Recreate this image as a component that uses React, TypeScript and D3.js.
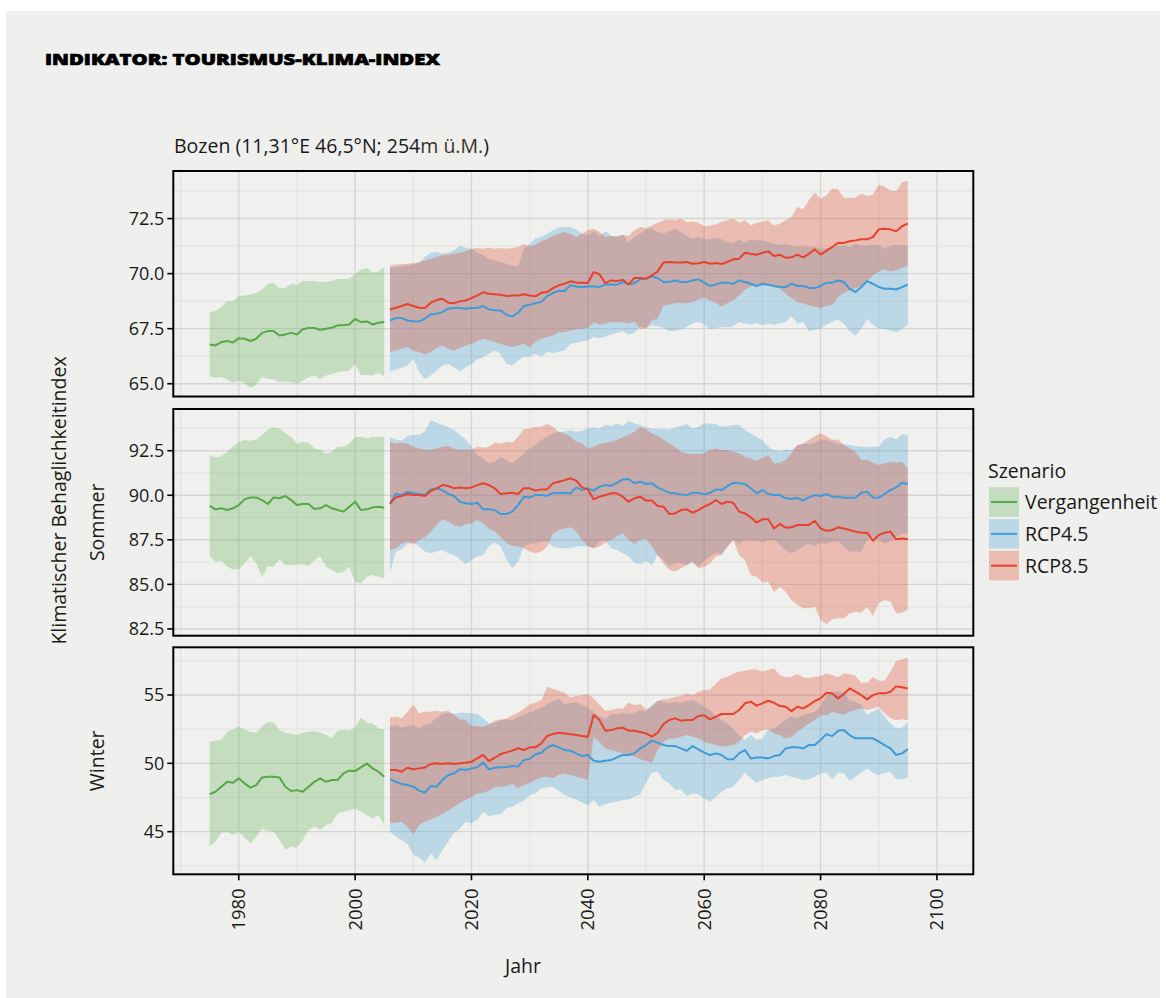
import React, { useEffect } from 'react';
import * as d3 from 'd3';

// ---------- years ----------
const pastYears = d3.range(1975, 2006); // 31 years
const futureYears = d3.range(2006, 2096); // 90 years

// ---------- Panel 1 (annual) ----------
const jahrPastMean = [66.78, 66.74, 66.89, 66.94, 66.87, 67.07, 67.04, 66.94, 67.04, 67.31, 67.39, 67.39, 67.19, 67.24, 67.31, 67.24, 67.47, 67.53, 67.53, 67.45, 67.50, 67.54, 67.65, 67.66, 67.69, 67.95, 67.80, 67.83, 67.69, 67.77, 67.80];
const jahrPastHi = [68.25, 68.30, 68.48, 68.74, 68.75, 68.98, 69.01, 69.04, 69.12, 69.27, 69.54, 69.57, 69.34, 69.34, 69.54, 69.50, 69.66, 69.65, 69.66, 69.62, 69.62, 69.66, 69.77, 69.74, 69.77, 69.99, 70.18, 70.25, 70.04, 70.10, 70.30];
const jahrPastLo = [65.34, 65.27, 65.30, 65.18, 65.04, 65.15, 65.03, 64.81, 64.95, 65.30, 65.22, 65.22, 65.07, 65.10, 65.07, 65.00, 65.15, 65.30, 65.37, 65.22, 65.37, 65.45, 65.53, 65.57, 65.60, 65.90, 65.40, 65.40, 65.37, 65.50, 65.34];
const jahrRcp45Mean = [
  67.87, 67.98, 67.98, 67.87, 67.84, 67.83, 67.95, 68.15, 68.18, 68.25, 68.41, 68.44, 68.44, 68.41, 68.44,
  68.44, 68.53, 68.37, 68.34, 68.33, 68.13, 68.06, 68.22, 68.53, 68.59, 68.66, 68.71, 68.98, 69.12, 69.22,
  69.21, 69.47, 69.42, 69.39, 69.42, 69.42, 69.39, 69.51, 69.51, 69.50,
  69.62, 69.51, 69.57, 69.74, 69.77, 69.87, 69.80, 69.62, 69.62, 69.69,
  69.62, 69.62, 69.69, 69.74, 69.59, 69.44, 69.51, 69.59, 69.59, 69.53,
  69.69, 69.62, 69.54, 69.44, 69.54, 69.50, 69.44, 69.39, 69.39, 69.54,
  69.44, 69.44, 69.36, 69.34, 69.44, 69.59, 69.59, 69.69, 69.62, 69.31,
  69.16, 69.39, 69.66, 69.54, 69.39, 69.31, 69.31, 69.28, 69.39, 69.50];
const jahrRcp45Hi = [
  70.25, 70.30, 70.34, 70.37, 70.42, 70.48, 70.75, 70.95, 70.98, 70.90, 70.95, 71.06, 71.28, 71.16, 71.13,
  70.95, 70.83, 70.68, 70.60, 70.53, 70.45, 70.37, 70.30, 71.13, 71.36, 71.59, 71.66, 71.81, 71.97, 72.09,
  72.12, 72.12, 72.00, 71.81, 71.74, 71.92, 71.71, 71.94, 71.71, 71.71,
  71.77, 71.43, 71.66, 71.81, 72.01, 72.07, 71.89, 71.81, 71.92, 72.04,
  71.89, 71.71, 71.59, 71.66, 71.56, 71.56, 71.62, 71.56, 71.43, 71.40,
  71.56, 71.40, 71.56, 71.51, 71.51, 71.43, 71.36, 71.31, 71.36, 71.28,
  71.24, 71.28, 71.21, 71.21, 71.13, 71.16, 71.21, 71.28, 71.28, 71.21,
  71.36, 71.28, 71.28, 71.31, 71.28, 71.13, 71.25, 71.31, 71.28, 71.28];
const jahrRcp45Lo = [
  65.56, 65.65, 65.71, 65.83, 66.13, 65.53, 65.22, 65.37, 65.60, 65.83, 65.90, 65.75, 65.56, 65.75, 65.90,
  66.10, 66.21, 66.36, 66.51, 66.36, 65.90, 65.83, 66.06, 66.25, 66.21, 66.36, 66.21, 66.44, 66.40, 66.45,
  66.51, 66.81, 66.86, 66.92, 66.97, 67.12, 67.07,
  67.15, 67.24, 67.30, 67.39, 67.22, 67.30, 67.58, 67.53, 67.65, 67.61,
  67.53, 67.39, 67.39, 67.47, 67.58, 67.73, 67.80, 67.70, 67.47, 67.53,
  67.58, 67.55, 67.61, 67.80, 67.73, 67.68, 67.76, 67.65, 67.73, 67.68,
  67.73, 67.80, 68.06, 67.73, 67.80, 67.38, 67.45,
  67.50, 67.68, 67.80, 67.92, 67.72, 67.37, 67.19, 67.50, 67.95, 67.68, 67.50, 67.50, 67.42, 67.34, 67.50, 67.68];
const jahrRcp85Mean = [
  68.37, 68.45, 68.53, 68.62, 68.53, 68.45, 68.44, 68.68, 68.80, 68.86, 68.68, 68.66, 68.74, 68.78, 68.89,
  69.01, 69.15, 69.09, 69.06, 69.04, 68.98, 69.01, 69.01, 69.06, 69.01, 68.97, 69.13, 69.16, 69.34, 69.47,
  69.54, 69.65, 69.59, 69.59, 69.57, 70.07, 69.97, 69.57, 69.69, 69.66,
  69.72, 69.51, 69.80, 69.80, 69.77, 69.92, 70.10, 70.50, 70.53, 70.50,
  70.50, 70.53, 70.45, 70.47, 70.53, 70.45, 70.48, 70.44, 70.53, 70.65,
  70.68, 70.95, 70.90, 70.86, 70.95, 71.01, 70.80, 70.86, 70.72, 70.74,
  70.86, 70.74, 70.90, 71.10, 70.87, 71.03, 71.21, 71.40, 71.39, 71.47,
  71.51, 71.56, 71.56, 71.66, 72.01, 72.04, 72.01, 71.92, 72.15, 72.27];
const jahrRcp85Hi = [
  70.37, 70.40, 70.44, 70.45, 70.47, 70.53, 70.60, 70.68, 70.75, 70.83, 70.86, 70.90, 70.95, 71.01, 71.13,
  71.16, 71.13, 71.18, 71.13, 71.16, 71.13, 71.16, 71.21, 71.33, 71.24, 71.31, 71.47, 71.56, 71.71, 71.81,
  71.89, 71.81, 71.66, 71.81, 71.97, 72.04, 71.89, 71.66, 71.71, 71.66,
  71.77, 71.71, 71.97, 72.12, 72.07, 72.19, 72.31, 72.42, 72.47, 72.42,
  72.50, 72.34, 72.37, 72.31, 72.15, 72.19, 72.24, 72.34, 72.42, 72.50,
  72.31, 72.42, 72.19, 72.30, 72.37, 72.42, 72.19, 72.27, 72.42, 72.57,
  73.03, 72.92, 73.33, 73.68, 73.40, 73.56, 73.86, 73.83, 73.45, 73.45,
  73.44, 73.63, 73.53, 73.59, 74.04, 73.94, 73.78, 73.74, 74.16, 74.21];
const jahrRcp85Lo = [
  66.44, 66.51, 66.59, 66.66, 66.51, 66.44, 66.33, 66.44, 66.62, 66.74, 66.59, 66.51, 66.62, 66.74, 66.81,
  66.94, 67.04, 66.97, 66.89, 66.81, 66.74, 66.66, 66.74, 66.81, 66.66, 66.89, 67.04, 67.12, 67.19, 67.34,
  67.34, 67.42, 67.47, 67.50, 67.53, 67.80, 67.68,
  67.73, 67.80, 67.77, 67.80, 67.73, 67.83, 67.50, 67.50, 67.88, 67.95,
  68.56, 68.59, 68.67, 68.67, 68.64, 68.71, 68.82, 68.94, 68.76, 68.68,
  68.51, 68.67, 68.79, 69.01, 69.27, 69.42, 69.45, 69.47, 69.44, 69.39,
  69.32, 69.09, 68.89, 68.71, 68.64, 68.56, 68.51,
  68.44, 68.53, 68.59, 68.94, 69.13, 69.24, 69.34, 69.44, 69.69, 69.92, 70.10, 70.19, 70.10, 70.15, 70.25, 70.37];

// ---------- Panel 2 (Sommer) ----------
const sommerPastMean = [89.40, 89.21, 89.27, 89.17, 89.27, 89.45, 89.77, 89.88, 89.88, 89.73, 89.51, 89.88, 89.83, 89.96, 89.73, 89.45, 89.51, 89.51, 89.23, 89.27, 89.45, 89.27, 89.17, 89.08, 89.36, 89.64, 89.17, 89.21, 89.32, 89.36, 89.30];
const sommerPastHi = [92.26, 92.13, 92.16, 92.44, 92.72, 93.00, 93.10, 93.06, 93.13, 93.38, 93.66, 93.81, 93.75, 93.47, 93.28, 92.91, 93.00, 92.95, 92.63, 92.54, 92.31, 92.44, 92.72, 92.72, 92.91, 93.25, 93.28, 93.19, 93.28, 93.25, 93.28];
const sommerPastLo = [86.59, 86.27, 86.33, 85.99, 85.84, 85.84, 86.18, 86.59, 86.18, 85.43, 86.03, 85.99, 86.41, 86.09, 86.09, 86.09, 86.13, 86.03, 86.37, 86.56, 85.99, 85.81, 85.62, 85.71, 85.99, 85.15, 85.06, 85.43, 85.53, 85.43, 85.34];
const sommerRcp45Mean = [
  89.51, 90.07, 90.01, 90.20, 90.11, 90.07, 90.01, 90.33, 90.39, 90.29, 90.07, 89.96, 89.64, 89.55, 89.51,
  89.58, 89.21, 89.21, 89.17, 88.95, 88.95, 89.08, 89.45, 89.92, 89.88, 90.01, 90.01, 89.96, 90.14, 90.11,
  90.14, 90.11, 90.44, 90.29, 90.39, 90.26, 90.48, 90.57, 90.52, 90.70,
  90.89, 90.91, 90.67, 90.76, 90.63, 90.67, 90.44, 90.29, 90.14, 90.11,
  90.05, 90.01, 90.14, 90.14, 90.05, 90.14, 90.33, 90.29, 90.52, 90.70,
  90.67, 90.63, 90.39, 90.11, 90.29, 90.07, 90.01, 90.01, 89.83, 89.79,
  89.86, 89.70, 89.88, 90.01, 89.96, 90.07, 89.92, 89.92, 89.86, 89.86,
  89.86, 90.14, 90.20, 89.88, 89.86, 90.07, 90.29, 90.44, 90.70, 90.63];
const sommerRcp45Hi = [
  93.25, 93.13, 93.06, 93.32, 93.38, 93.41, 93.56, 94.22, 94.07, 93.94, 93.81, 93.66, 93.38, 93.13, 92.72,
  92.26, 92.07, 91.79, 91.88, 92.16, 91.98, 91.79, 92.07, 92.35, 92.63, 92.82, 93.10, 93.28, 93.47, 93.56,
  93.56, 93.66, 93.56, 93.62, 93.75, 93.81, 93.75, 93.94, 93.88, 94.03,
  93.88, 94.18, 94.03, 93.94, 93.81, 93.75, 93.70, 93.75, 93.66, 93.81,
  93.88, 94.00, 93.75, 93.85, 94.03, 94.03, 94.00, 93.85, 93.88, 93.94,
  93.94, 93.66, 93.47, 93.28, 93.10, 92.72, 92.54, 92.44, 92.57, 92.54,
  92.76, 92.87, 92.87, 92.95, 93.10, 93.13, 93.00, 92.87, 92.87, 92.82,
  92.76, 92.72, 92.72, 92.72, 92.72, 93.13, 93.28, 93.13, 93.43, 93.38];
const sommerRcp45Lo = [
  85.70, 86.84, 86.97, 87.27, 87.40, 87.12, 86.84, 86.74, 86.84, 86.93, 86.74, 86.65, 86.41, 86.14, 86.37,
  86.56, 86.65, 87.12, 87.34, 87.12, 86.41, 85.90, 86.27, 87.12, 87.30, 87.30, 87.40, 87.40, 87.12, 87.02,
  87.02, 87.02, 87.12, 87.15, 87.12, 87.02, 87.40, 87.49, 87.02, 86.93,
  86.74, 86.56, 86.22, 86.14, 86.33, 86.09, 86.65, 86.37, 86.03, 86.18,
  86.18, 86.09, 86.27, 85.99, 86.33, 86.56, 86.78, 86.70, 87.12, 87.49,
  87.30, 87.49, 87.45, 87.45, 87.34, 87.49, 87.49, 87.21, 86.93, 86.74,
  86.93, 87.12, 87.30, 87.15, 87.34, 87.27, 87.40, 87.40, 87.12, 86.84,
  86.84, 86.84, 87.49, 87.68, 87.49, 87.30, 87.40, 87.68, 87.86, 87.86];
const sommerRcp85Mean = [
  89.55, 89.88, 89.96, 90.07, 90.01, 90.01, 89.96, 90.24, 90.39, 90.57, 90.52, 90.39, 90.44, 90.39, 90.44,
  90.57, 90.67, 90.57, 90.39, 90.07, 90.11, 90.14, 90.07, 90.39, 90.39, 90.26, 90.33, 90.33, 90.67, 90.76,
  90.85, 90.95, 90.82, 90.44, 90.33, 89.77, 89.92, 90.01, 90.11, 90.11,
  89.92, 89.64, 89.83, 89.92, 89.70, 89.70, 89.40, 89.36, 88.95, 88.98,
  89.17, 89.21, 89.02, 89.17, 89.36, 89.51, 89.73, 89.51, 89.64, 89.58,
  89.08, 88.98, 88.76, 88.46, 88.65, 88.65, 88.14, 88.39, 88.18, 88.20,
  88.33, 88.33, 88.33, 88.57, 88.14, 88.01, 88.05, 88.20, 88.14, 88.05,
  87.96, 87.90, 87.90, 87.45, 87.77, 87.90, 87.96, 87.53, 87.58, 87.53];
const sommerRcp85Hi = [
  93.00, 92.91, 92.95, 92.91, 92.72, 92.63, 92.54, 92.57, 92.63, 92.72, 92.76, 92.63, 92.54, 92.57, 92.54,
  92.72, 92.67, 92.72, 92.95, 92.91, 93.00, 92.95, 93.28, 93.70, 93.75, 93.85, 93.85, 94.00, 93.85, 93.56,
  93.47, 93.28, 93.00, 92.91, 92.63, 92.72, 92.87, 92.95, 93.00, 93.10,
  93.25, 93.38, 93.56, 93.81, 93.70, 93.47, 93.32, 93.13, 92.91, 92.72,
  92.44, 92.35, 92.31, 92.31, 92.35, 92.54, 92.63, 92.54, 92.54, 92.44,
  92.35, 92.16, 92.07, 91.94, 92.07, 92.26, 91.79, 91.83, 91.98, 92.35,
  92.82, 92.91, 93.10, 93.32, 93.47, 93.32, 93.10, 93.13, 92.82, 92.63,
  92.44, 91.98, 91.98, 91.83, 91.70, 91.79, 91.88, 91.83, 91.88, 91.51];
const sommerRcp85Lo = [
  86.93, 87.02, 87.30, 87.40, 87.21, 87.49, 87.64, 87.96, 88.33, 88.65, 88.52, 88.33, 88.24, 88.39, 88.42,
  88.61, 88.42, 88.14, 87.96, 87.64, 87.34, 87.15, 87.12, 87.02, 86.84, 86.74, 86.84, 87.12, 87.86, 88.05,
  88.14, 88.20, 87.96, 87.49, 87.15, 87.02, 87.12, 87.34, 87.49, 87.68,
  87.86, 87.49, 87.27, 87.49, 87.58, 87.12, 86.65, 86.18, 85.81, 85.71,
  85.90, 86.09, 86.27, 85.90, 85.99, 86.18, 86.56, 86.65, 87.12, 87.49,
  86.65, 86.37, 85.53, 85.43, 85.10, 85.15, 84.59, 84.87, 84.59, 84.13,
  83.85, 83.66, 83.66, 83.75, 83.00, 82.78, 83.04, 83.10, 83.10, 83.38,
  83.47, 83.41, 83.75, 83.23, 83.94, 84.13, 84.03, 83.38, 83.41, 83.60];

// ---------- Panel 3 (Winter) ----------
const winterPastMean = [47.75, 47.92, 48.29, 48.65, 48.58, 48.90, 48.53, 48.22, 48.41, 48.97, 49.02, 49.02, 48.97, 48.29, 47.97, 48.04, 47.92, 48.29, 48.65, 48.90, 48.65, 48.78, 48.78, 49.26, 49.46, 49.43, 49.70, 49.98, 49.63, 49.39, 49.02];
const winterPastHi = [51.58, 51.65, 51.70, 52.31, 52.48, 52.68, 52.48, 52.31, 52.24, 52.68, 53.04, 52.97, 52.43, 52.24, 52.19, 52.07, 52.24, 52.31, 52.36, 52.24, 52.07, 51.83, 52.39, 52.43, 52.39, 52.63, 53.36, 52.97, 52.92, 52.56, 52.48];
const winterPastLo = [43.95, 44.26, 44.92, 44.99, 44.75, 44.99, 44.58, 44.14, 44.63, 45.24, 45.07, 44.99, 44.39, 43.70, 43.90, 43.85, 44.39, 45.12, 45.36, 45.12, 45.48, 45.65, 46.34, 46.46, 46.58, 46.70, 46.46, 46.22, 45.97, 46.22, 45.48];
const winterRcp45Mean = [
  48.85, 48.65, 48.48, 48.41, 48.29, 48.00, 47.85, 48.34, 48.29, 48.78, 49.14, 49.26, 49.56, 49.51,
  49.63, 49.71, 50.05, 49.56, 49.68, 49.71, 49.71, 49.80, 49.76, 50.24, 50.32, 50.66, 50.78, 51.15, 51.34, 51.17,
  50.97, 50.92, 50.73, 50.53, 50.61, 50.19, 50.12, 50.19, 50.24, 50.43,
  50.61, 50.61, 50.73, 51.09, 51.34, 51.66, 51.51, 51.34, 51.26, 51.26,
  51.09, 50.92, 51.26, 51.02, 50.78, 50.61, 50.73, 50.61, 50.29, 50.29,
  50.73, 50.97, 50.36, 50.43, 50.43, 50.36, 50.53, 50.61, 51.09, 51.17,
  51.17, 51.09, 51.34, 51.34, 51.70, 52.14, 51.99, 52.39, 52.43, 52.07,
  51.83, 51.83, 51.83, 51.83, 51.58, 51.34, 51.09, 50.61, 50.73, 51.04];
const winterRcp45Hi = [
  52.73, 52.80, 52.63, 52.73, 52.80, 52.56, 52.80, 52.97, 53.29, 53.61, 53.70, 53.61, 53.70, 53.70,
  53.65, 53.61, 53.29, 52.92, 52.97, 53.15, 53.23, 53.17, 53.41, 53.55, 53.72, 53.90, 54.06, 54.33, 54.54, 54.75,
  54.35, 54.39, 54.49, 54.27, 54.09, 53.72, 53.44, 53.27,
  53.60, 53.60, 53.70, 53.60, 53.70, 53.90, 53.78, 54.26, 54.58, 54.51, 54.39, 54.51, 54.39, 54.58, 54.63, 54.39, 54.14,
  53.90, 53.46, 53.17, 52.92, 52.48, 52.07, 51.70, 52.07, 51.70, 51.82,
  52.43, 52.56, 52.92, 53.17, 53.46, 53.29, 53.53, 53.65, 53.78, 54.14,
  54.99, 55.12, 55.31, 55.12, 54.63, 54.51, 54.26, 53.53, 53.78, 54.02,
  53.41, 52.92, 52.56, 52.63, 53.04];
const winterRcp45Lo = [
  44.99, 44.63, 44.39, 44.09, 43.29, 43.12, 42.73, 43.41, 42.92, 43.66, 44.26, 44.92, 45.24, 45.73,
  45.61, 45.85, 46.46, 46.15, 46.22, 46.29, 46.71, 46.83, 47.07, 47.27, 47.68, 47.80, 48.17, 48.24, 48.29, 48.00,
  47.68, 47.51, 47.36, 47.12, 46.95, 47.31, 46.82, 47.02, 47.12, 47.19,
  47.31, 47.36, 47.56, 47.75, 48.58, 49.31, 49.39, 48.78, 48.53, 48.04,
  48.09, 47.61, 47.80, 47.75, 47.43, 47.19, 47.56, 47.92, 48.17, 48.29,
  48.78, 49.31, 48.90, 48.58, 48.78, 48.90, 49.02, 49.02, 49.14, 49.02,
  48.90, 48.78, 48.83, 49.02, 49.26, 49.31, 48.83, 49.31, 49.26, 48.73,
  49.02, 49.31, 49.63, 49.31, 49.14, 49.31, 49.39, 48.83, 48.83, 48.97];
const winterRcp85Mean = [
  49.51, 49.51, 49.39, 49.68, 49.56, 49.63, 49.70, 49.95, 50.00, 49.95, 50.00, 49.95, 50.00, 50.04,
  50.12, 50.37, 50.61, 50.17, 50.41, 50.68, 50.80, 50.93, 51.10, 50.97, 51.17, 51.17, 51.46, 52.00, 52.15, 52.24,
  52.19, 52.12, 52.07, 52.00, 51.95, 53.53, 53.17, 52.39, 52.43, 52.56,
  52.61, 52.39, 52.39, 52.29, 52.19, 51.95, 52.24, 52.87, 53.17, 53.29,
  53.12, 53.17, 53.17, 53.46, 53.51, 53.22, 53.41, 53.61, 53.61, 53.61,
  53.90, 54.39, 54.51, 54.22, 54.39, 54.58, 54.43, 54.19, 54.14, 53.82,
  54.14, 54.02, 54.26, 54.56, 54.75, 55.17, 55.12, 54.75, 55.07, 55.48,
  55.24, 54.99, 54.68, 54.99, 55.12, 55.12, 55.24, 55.63, 55.56, 55.48];
const winterRcp85Hi = [
  53.36, 53.41, 53.29, 53.78, 54.31, 53.65, 53.78, 53.78, 53.85, 53.78, 53.85, 53.53, 53.22, 53.17,
  52.74, 52.74, 52.65, 52.83, 53.11, 53.20, 53.27, 53.51, 53.72, 53.99, 54.33, 54.44, 54.61, 55.61, 55.45, 55.31,
  55.17, 54.82, 54.92, 54.99, 55.07, 54.75, 54.26, 53.85, 53.90, 54.02,
  54.02, 54.43, 54.26, 54.34, 53.95, 54.14, 54.58, 54.68, 54.75, 54.87,
  54.92, 55.12, 54.99, 55.24, 55.36, 55.41, 55.85, 56.22, 56.34, 56.58,
  56.70, 56.78, 56.87, 56.87, 56.70, 56.82, 56.95, 56.46, 56.29, 56.34,
  56.53, 56.29, 56.22, 56.34, 56.39, 56.58, 56.46, 56.29, 56.58, 56.53,
  56.39, 55.90, 55.90, 56.34, 56.04, 56.04, 56.70, 57.51, 57.61, 57.75];
const winterRcp85Lo = [
  45.65, 45.65, 45.73, 45.36, 44.82, 45.48, 45.73, 45.90, 46.09, 46.29, 46.53, 46.82, 47.07, 47.31,
  47.56, 47.80, 47.85, 48.00, 48.29, 48.29, 48.34, 48.49, 48.17, 48.41, 48.58, 48.78, 48.97, 49.02, 48.90, 49.15,
  49.26, 49.14, 49.02, 48.90, 48.78, 51.95, 51.58, 51.09, 50.97, 50.85,
  50.73, 50.61, 50.48, 50.29, 50.19, 50.04, 50.97, 51.58, 51.82, 51.82,
  51.95, 52.07, 51.95, 51.82, 51.58, 51.46, 51.34, 51.22, 51.26, 51.34,
  51.58, 52.07, 52.31, 52.19, 52.43, 52.48, 52.19, 52.07, 51.82, 51.95,
  52.31, 52.63, 52.92, 53.17, 53.53, 53.53, 53.78, 53.65, 53.53, 53.78,
  53.90, 54.02, 53.90, 54.02, 54.14, 53.65, 53.29, 53.17, 53.22, 53.17];

// ---------- axis ticks ----------
const xTicks = [1980, 2000, 2020, 2040, 2060, 2080, 2100];
const xMinor = [1970, 1990, 2010, 2030, 2050, 2070, 2090];
const jahrTicks = [65, 67.5, 70, 72.5];
const sommerTicks = [82.5, 85, 87.5, 90, 92.5];
const winterTicks = [45, 50, 55];

const scenarioLabels = ['Vergangenheit', 'RCP4.5', 'RCP8.5'];

// ---------- styling ----------
const FONT = "'Open Sans', 'Noto Sans', sans-serif";
const TEXT = '#1a1a1a';
const BG = '#efefed';
const PANEL_BG = '#f0f0ee';
const FILL_ALPHA = 0.32;
const scenarioColors = [
  { line: '#56a846', fill: '#6ab35c' },
  { line: '#3f9bd8', fill: '#4ea2d5' },
  { line: '#e8412c', fill: '#e04e33' },
];

const X0 = 173.3, X1 = 973.3;

type Series = { mean: number[]; lo: number[]; hi: number[] };
type PanelDef = {
  strip: string;
  top: number;
  bottom: number;
  domain: [number, number];
  ticks: number[];
  fmt: (n: number) => string;
  past: Series;
  rcp45: Series;
  rcp85: Series;
};

const panelDefs: PanelDef[] = [
  {
    strip: '', top: 171, bottom: 396.5, domain: [64.42, 74.66], ticks: jahrTicks, fmt: d3.format('.1f'),
    past: { mean: jahrPastMean, lo: jahrPastLo, hi: jahrPastHi },
    rcp45: { mean: jahrRcp45Mean, lo: jahrRcp45Lo, hi: jahrRcp45Hi },
    rcp85: { mean: jahrRcp85Mean, lo: jahrRcp85Lo, hi: jahrRcp85Hi },
  },
  {
    strip: 'Sommer', top: 409, bottom: 635.7, domain: [82.12, 94.84], ticks: sommerTicks, fmt: d3.format('.1f'),
    past: { mean: sommerPastMean, lo: sommerPastLo, hi: sommerPastHi },
    rcp45: { mean: sommerRcp45Mean, lo: sommerRcp45Lo, hi: sommerRcp45Hi },
    rcp85: { mean: sommerRcp85Mean, lo: sommerRcp85Lo, hi: sommerRcp85Hi },
  },
  {
    strip: 'Winter', top: 647.3, bottom: 874.3, domain: [41.88, 58.49], ticks: winterTicks, fmt: d3.format('d'),
    past: { mean: winterPastMean, lo: winterPastLo, hi: winterPastHi },
    rcp45: { mean: winterRcp45Mean, lo: winterRcp45Lo, hi: winterRcp45Hi },
    rcp85: { mean: winterRcp85Mean, lo: winterRcp85Lo, hi: winterRcp85Hi },
  },
];

const x = d3.scaleLinear().domain([1968.75, 2106.25]).range([X0, X1]);

function Panel({ def, showX }: { def: PanelDef; showX: boolean }) {
  const y = d3.scaleLinear().domain(def.domain).range([def.bottom, def.top]);
  const step = def.ticks[1] - def.ticks[0];
  const minor = d3.range(def.ticks[0] - step / 2, def.domain[1], step).filter(v => v > def.domain[0] && v < def.domain[1]);
  const area = d3.area<[number, number, number]>().x(d => x(d[0])).y0(d => y(d[1])).y1(d => y(d[2]));
  const line = d3.line<[number, number]>().x(d => x(d[0])).y(d => y(d[1]));
  const groups: { years: number[]; s: Series; c: { line: string; fill: string } }[] = [
    { years: pastYears, s: def.past, c: scenarioColors[0] },
    { years: futureYears, s: def.rcp45, c: scenarioColors[1] },
    { years: futureYears, s: def.rcp85, c: scenarioColors[2] },
  ];
  const midY = (def.top + def.bottom) / 2;
  return (
    <g>
      <rect x={X0} y={def.top} width={X1 - X0} height={def.bottom - def.top} fill={PANEL_BG} />
      {minor.map(v => (
        <line key={'hm' + v} x1={X0} x2={X1} y1={y(v)} y2={y(v)} stroke="#dededc" strokeWidth={0.8} />
      ))}
      {xMinor.map(v => (
        <line key={'vm' + v} x1={x(v)} x2={x(v)} y1={def.top} y2={def.bottom} stroke="#dededc" strokeWidth={0.8} />
      ))}
      {def.ticks.map(v => (
        <line key={'hM' + v} x1={X0} x2={X1} y1={y(v)} y2={y(v)} stroke="#d5d5d3" strokeWidth={1.4} />
      ))}
      {xTicks.map(v => (
        <line key={'vM' + v} x1={x(v)} x2={x(v)} y1={def.top} y2={def.bottom} stroke="#d5d5d3" strokeWidth={1.4} />
      ))}
      {groups.map((g, i) => (
        <path key={'a' + i}
          d={area(g.years.map((yr, k) => [yr, g.s.lo[k], g.s.hi[k]] as [number, number, number])) || ''}
          fill={g.c.fill} fillOpacity={FILL_ALPHA} />
      ))}
      {groups.map((g, i) => (
        <path key={'l' + i}
          d={line(g.years.map((yr, k) => [yr, g.s.mean[k]] as [number, number])) || ''}
          fill="none" stroke={g.c.line} strokeWidth={2} strokeLinejoin="round" />
      ))}
      <rect x={X0} y={def.top} width={X1 - X0} height={def.bottom - def.top} fill="none" stroke="#000" strokeWidth={2} />
      {def.ticks.map(v => (
        <g key={'t' + v}>
          <line x1={X0 - 6} x2={X0} y1={y(v)} y2={y(v)} stroke="#000" strokeWidth={1.6} />
          <text x={X0 - 9} y={y(v)} dy="0.35em" textAnchor="end" fontSize={18} fill={TEXT}>{def.fmt(v)}</text>
        </g>
      ))}
      {def.strip && (
        <text transform={`translate(104,${midY}) rotate(-90)`} textAnchor="middle" fontSize={19.5} fill={TEXT}>{def.strip}</text>
      )}
      {showX && xTicks.map(v => (
        <g key={'xt' + v}>
          <line x1={x(v)} x2={x(v)} y1={def.bottom} y2={def.bottom + 6} stroke="#000" strokeWidth={1.6} />
          <text transform={`translate(${x(v)},${def.bottom + 14}) rotate(-90)`} dy="0.35em" textAnchor="end" fontSize={18.5} fill={TEXT}>{v}</text>
        </g>
      ))}
    </g>
  );
}

export default function App() {
  useEffect(() => {
    document.body.style.margin = '0';
  }, []);
  const legendTop = 487.3;
  const keyH = 31.8;
  return (
    <svg width={1166} height={998} style={{ display: 'block' }} fontFamily={FONT}>
      <rect x={0} y={0} width={1166} height={998} fill="#ffffff" />
      <rect x={6} y={11} width={1154} height={987} fill={BG} />
      <text x={45} y={65} fontSize={16.5} fontWeight={800} fill="#000" stroke="#000" strokeWidth={0.7}
        textLength={395} lengthAdjust="spacingAndGlyphs">INDIKATOR: TOURISMUS-KLIMA-INDEX</text>
      <text x={174} y={153} fontSize={19.5} fill={TEXT}>
        Bozen (11,31°E 46,5°N; 254<tspan fill="#3b3222">m ü.M.</tspan>)
      </text>
      {panelDefs.map((def, i) => (
        <Panel key={i} def={def} showX={i === panelDefs.length - 1} />
      ))}
      <text transform="translate(66,500.5) rotate(-90)" textAnchor="middle" fontSize={19.5} fill={TEXT}>Klimatischer Behaglichkeitindex</text>
      <text x={523} y={973} textAnchor="middle" fontSize={19.5} fill={TEXT}>Jahr</text>
      <text x={988} y={478} fontSize={19.5} fill={TEXT}>Szenario</text>
      {scenarioLabels.map((lab, i) => {
        const ky = legendTop + i * keyH;
        const c = scenarioColors[i];
        return (
          <g key={lab}>
            <rect x={989} y={ky} width={30} height={29.5} fill={BG} />
            <rect x={989} y={ky} width={30} height={29.5} fill={c.fill} fillOpacity={FILL_ALPHA} />
            <line x1={991} x2={1017} y1={ky + 14.75} y2={ky + 14.75} stroke={c.line} strokeWidth={2} />
            <text x={1025} y={ky + 14.75} dy="0.36em" fontSize={19.5} fill={TEXT}>{lab}</text>
          </g>
        );
      })}
    </svg>
  );
}
